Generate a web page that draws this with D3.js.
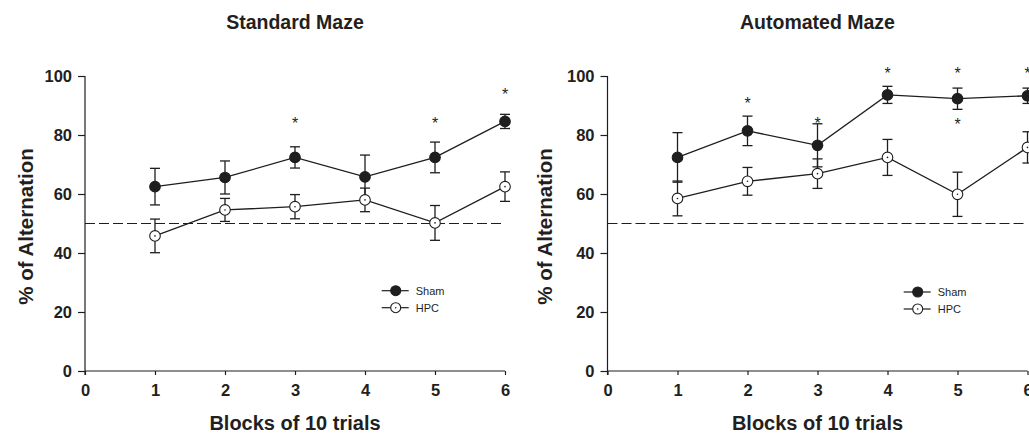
<!DOCTYPE html>
<html><head><meta charset="utf-8">
<script src="https://cdn.jsdelivr.net/npm/d3@7"></script>
<style>
html,body{margin:0;padding:0;background:#fff;}
svg{display:block;}
text{font-family:"Liberation Sans",Arial,sans-serif;fill:#231f20;}
</style></head><body>
<svg id="c" width="1029" height="436"></svg>
<script>
const blocks = [1, 2, 3, 4, 5, 6];
const xTicks = [0, 1, 2, 3, 4, 5, 6];
const yTicks = [0, 20, 40, 60, 80, 100];
const chanceLevel = 50;

const standardSham    = [62.5, 65.6, 72.4, 65.8, 72.4, 84.6];
const standardShamErr = [6.2, 5.6, 3.6, 7.4, 5.2, 2.4];
const standardHPC     = [45.8, 54.6, 55.7, 58.0, 50.2, 62.5];
const standardHPCErr  = [5.7, 3.9, 4.1, 4.0, 5.9, 5.0];
const standardStars   = [[3, 85], [5, 85], [6, 95]];

const automatedSham    = [72.4, 81.4, 76.5, 93.6, 92.3, 93.3];
const automatedShamErr = [8.4, 5.0, 7.3, 2.9, 3.6, 2.6];
const automatedHPC     = [58.5, 64.3, 66.9, 72.4, 59.9, 75.8];
const automatedHPCErr  = [5.9, 4.7, 5.0, 6.1, 7.5, 5.3];
const automatedStars   = [[2, 92], [3, 85], [4, 102], [5, 102], [5, 84.7], [6, 102]];

const seriesNames = ["Sham", "HPC"];
const titles = ["Standard Maze", "Automated Maze"];
const xTitle = "Blocks of 10 trials";
const yTitle = "% of Alternation";

const panels = [
  {title: titles[0], sham: standardSham, shamErr: standardShamErr, hpc: standardHPC, hpcErr: standardHPCErr, stars: standardStars,
   x0: 85, x1: 505, ylab: 33, legX: 395.7, legY: 290.7},
  {title: titles[1], sham: automatedSham, shamErr: automatedShamErr, hpc: automatedHPC, hpcErr: automatedHPCErr, stars: automatedStars,
   x0: 607.5, x1: 1027.5, ylab: 552, legX: 917.7, legY: 292}
];

const svg = d3.select("#c");
const ink = "#1e1e1e";
const y = d3.scaleLinear().domain([0, 100]).range([371, 76]);

panels.forEach(p => {
  const x = d3.scaleLinear().domain([0, 6]).range([p.x0, p.x1]);
  const g = svg.append("g");

  // axes
  const ay = g.append("g").attr("transform", `translate(${p.x0},0)`)
    .call(d3.axisLeft(y).tickValues(yTicks).tickSize(7).tickPadding(6).tickFormat(d3.format("d")));
  const ax = g.append("g").attr("transform", `translate(0,${y(0)})`)
    .call(d3.axisBottom(x).tickValues(xTicks).tickSize(4).tickPadding(9).tickFormat(d3.format("d")));
  [ay, ax].forEach(a => {
    a.select(".domain").attr("stroke", ink).attr("stroke-width", 1.2);
    a.selectAll(".tick line").attr("stroke", ink).attr("stroke-width", 1.2);
    a.selectAll(".tick text").attr("font-size", 16.5).attr("font-weight", "bold")
      .attr("font-family", "Liberation Sans, Arial, sans-serif").attr("fill", "#231f20");
  });
  ay.select(".domain").attr("d", `M-0,${y(100)}V${y(0) + 4}`);
  ax.select(".domain").attr("d", `M${p.x0},0H${p.x1}`);

  // chance line
  g.append("line").attr("x1", p.x0).attr("x2", p.x1).attr("y1", y(chanceLevel)).attr("y2", y(chanceLevel))
    .attr("stroke", ink).attr("stroke-width", 1.1).attr("stroke-dasharray", "10,4");

  // titles
  g.append("text").attr("x", (p.x0 + p.x1) / 2).attr("y", 28.5).attr("text-anchor", "middle")
    .attr("font-size", 19.5).attr("font-weight", "bold").text(p.title);
  g.append("text").attr("x", (p.x0 + p.x1) / 2).attr("y", 429.5).attr("text-anchor", "middle")
    .attr("font-size", 20).attr("font-weight", "bold").text(xTitle);
  g.append("text").attr("transform", `translate(${p.ylab},226.5) rotate(-90)`).attr("text-anchor", "middle")
    .attr("font-size", 20.5).attr("font-weight", "bold").text(yTitle);

  const series = [
    {vals: p.sham, errs: p.shamErr, fill: ink, dot: false},
    {vals: p.hpc, errs: p.hpcErr, fill: "#fff", dot: true}
  ];
  const line = d3.line().x((d, i) => x(blocks[i])).y(d => y(d));
  series.forEach(s => {
    // error bars
    const eb = g.append("g").attr("stroke", ink).attr("stroke-width", 1.3).attr("fill", "none");
    s.vals.forEach((v, i) => {
      const cx = x(blocks[i]);
      const yt = y(v + s.errs[i]), yb = y(v - s.errs[i]);
      eb.append("line").attr("x1", cx).attr("x2", cx).attr("y1", yt).attr("y2", yb);
      eb.append("line").attr("x1", cx - 5).attr("x2", cx + 5).attr("y1", yt).attr("y2", yt);
      eb.append("line").attr("x1", cx - 5).attr("x2", cx + 5).attr("y1", yb).attr("y2", yb);
    });
  });
  series.forEach(s => {
    g.append("path").datum(s.vals).attr("d", line).attr("fill", "none").attr("stroke", ink).attr("stroke-width", 1.3);
  });
  series.forEach(s => {
    s.vals.forEach((v, i) => {
      g.append("circle").attr("cx", x(blocks[i])).attr("cy", y(v)).attr("r", 5.3)
        .attr("fill", s.fill).attr("stroke", ink).attr("stroke-width", 1.1);
      if (s.dot) g.append("circle").attr("cx", x(blocks[i])).attr("cy", y(v)).attr("r", 0.8).attr("fill", ink);
    });
  });

  // stars
  p.stars.forEach(([b, v]) => {
    g.append("text").attr("x", x(b)).attr("y", y(v) + 9).attr("text-anchor", "middle")
      .attr("font-size", 16).text("*");
  });

  // legend
  series.forEach((s, k) => {
    const ly = p.legY + k * 17;
    g.append("line").attr("x1", p.legX - 14).attr("x2", p.legX + 13).attr("y1", ly).attr("y2", ly)
      .attr("stroke", ink).attr("stroke-width", 1.2);
    g.append("circle").attr("cx", p.legX).attr("cy", ly).attr("r", 5).attr("fill", s.fill)
      .attr("stroke", ink).attr("stroke-width", 1.1);
    if (s.dot) g.append("circle").attr("cx", p.legX).attr("cy", ly).attr("r", 0.8).attr("fill", ink);
    g.append("text").attr("x", p.legX + 20).attr("y", ly + 4).attr("font-size", 11).attr("fill", "#333")
      .text(seriesNames[k]);
  });
});
</script>
</body></html>
